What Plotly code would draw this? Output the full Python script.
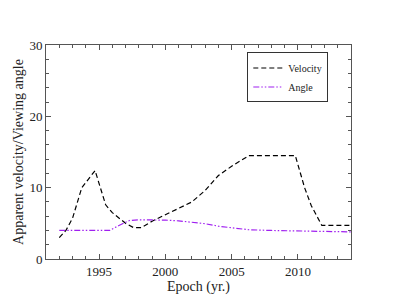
import plotly.graph_objects as go

vel_x = [1992.0, 1992.5, 1993.0, 1993.7, 1994.7, 1995.5, 1996.0, 1997.0, 1997.6, 1998.2,
         1999.0, 2000.0, 2001.0, 2002.0, 2003.0, 2004.0, 2005.0, 2006.3, 2009.8, 2010.5,
         2011.0, 2011.8, 2014.0]
vel_y = [3.0, 4.0, 5.7, 10.0, 12.4, 7.6, 6.5, 5.0, 4.4, 4.4,
         5.3, 6.2, 7.0, 8.0, 9.6, 11.7, 13.0, 14.5, 14.5, 10.0,
         7.5, 4.7, 4.7]

ang_x = [1992.0, 1995.8, 1996.5, 1997.3, 1998.0, 1999.0, 2000.0, 2001.0, 2002.0, 2003.0,
         2004.0, 2005.0, 2006.3, 2008.0, 2010.0, 2012.0, 2014.0]
ang_y = [4.0, 4.0, 4.7, 5.4, 5.5, 5.5, 5.45, 5.35, 5.2, 4.95,
         4.6, 4.35, 4.1, 4.0, 3.9, 3.85, 3.8]

x_ticks = [1995, 2000, 2005, 2010]
y_ticks = [0, 10, 20, 30]

axis_col = "#555555"
font = "Liberation Serif, Times New Roman, serif"

fig = go.Figure()
fig.add_trace(go.Scatter(x=vel_x, y=vel_y, mode="lines", name="Velocity",
                         line=dict(color="black", width=1.2, dash="5px,3px")))
fig.add_trace(go.Scatter(x=ang_x, y=ang_y, mode="lines", name="Angle",
                         line=dict(color="#a020f0", width=1.2, dash="6px,2px,1.5px,2px,1.5px,2px")))

common = dict(showline=True, linecolor=axis_col, linewidth=1, mirror="ticks",
              ticks="inside", tickcolor=axis_col, ticklen=5, showgrid=False, zeroline=False,
              automargin=False,
              tickfont=dict(family=font, size=13, color="#222"))

fig.update_xaxes(range=[1991, 2014], tickvals=x_ticks,
                 minor=dict(dtick=1, tick0=1991, ticks="inside", ticklen=3, tickcolor=axis_col),
                 title=dict(text="Epoch (yr.)", font=dict(family=font, size=14, color="#222"), standoff=0),
                 **common)
fig.update_yaxes(range=[0, 30], tickvals=y_ticks,
                 minor=dict(dtick=2, tick0=0, ticks="inside", ticklen=3, tickcolor=axis_col),
                 title=dict(text="Apparent velocity/Viewing angle", font=dict(family=font, size=14, color="#222"), standoff=2),
                 **common)

fig.update_layout(
    width=387, height=297,
    margin=dict(l=38, r=44, t=37, b=46),
    paper_bgcolor="white", plot_bgcolor="white",
    showlegend=True,
    legend=dict(x=0.66, y=0.965, xanchor="left", yanchor="top",
                bordercolor="#333", borderwidth=1, bgcolor="white",
                font=dict(family=font, size=10, color="#222"),
                itemwidth=30, tracegroupgap=0),
)

fig.write_html("out.html")
